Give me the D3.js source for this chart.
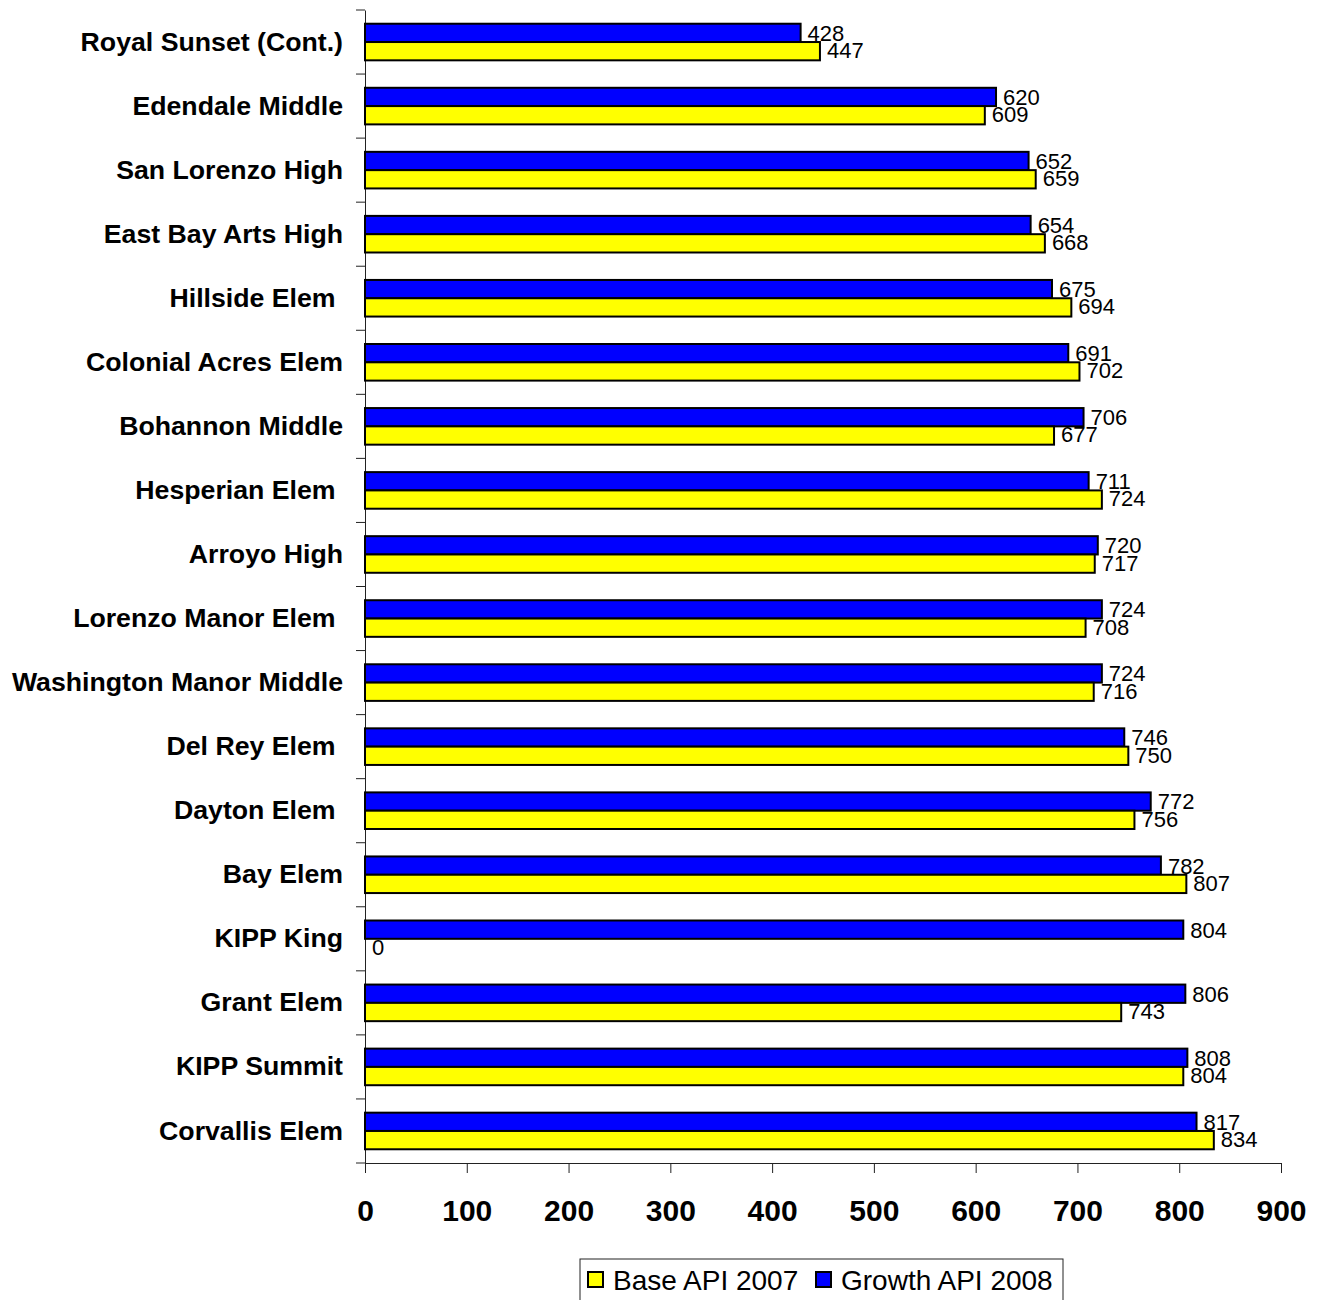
<!DOCTYPE html>
<html><head><meta charset="utf-8">
<script src="https://cdn.jsdelivr.net/npm/d3@7"></script>
<style>body{margin:0;background:#fff}svg{display:block}text{font-family:Arial,"Liberation Sans",sans-serif;white-space:pre}</style>
</head><body>
<script>
const categories = ["Royal Sunset (Cont.)","Edendale Middle","San Lorenzo High","East Bay Arts High","Hillside Elem ","Colonial Acres Elem","Bohannon Middle","Hesperian Elem ","Arroyo High","Lorenzo Manor Elem ","Washington Manor Middle","Del Rey Elem ","Dayton Elem ","Bay Elem","KIPP King","Grant Elem","KIPP Summit","Corvallis Elem"];
const growth2008 = [428,620,652,654,675,691,706,711,720,724,724,746,772,782,804,806,808,817];
const base2007 = [447,609,659,668,694,702,677,724,717,708,716,750,756,807,0,743,804,834];
const xTicks = [0,100,200,300,400,500,600,700,800,900];
const seriesNames = ["Growth API 2008","Base API 2007"];
const seriesColors = ["#0000ff","#ffff00"];
const legendOrder = ["Base API 2007","Growth API 2008"];

const W=1322,H=1300;
const svg=d3.select("body").append("svg").attr("width",W).attr("height",H);
const x=d3.scaleLinear().domain([0,900]).range([365,1281]);
const y=d3.scaleBand().domain(categories).range([10,1163]).padding(0);
const sub=d3.scaleBand().domain(seriesNames).range([0,y.bandwidth()]).paddingInner(0).paddingOuter(0.75);
const color=d3.scaleOrdinal().domain(seriesNames).range(seriesColors);

const data=categories.map((c,i)=>({cat:c,vals:[{s:seriesNames[0],v:growth2008[i]},{s:seriesNames[1],v:base2007[i]}]}));

// Y axis
const yAxis=svg.append("g").attr("transform","translate(365,0)")
  .call(d3.axisLeft(y).tickSize(0).tickPadding(22));
yAxis.select(".domain").attr("stroke","#222").attr("stroke-width",1);
yAxis.selectAll("text").attr("font-size",26.7).attr("font-weight","bold").attr("fill","#000")
  .style("font-family","Arial, 'Liberation Sans', sans-serif");
// band boundary ticks
const bounds=categories.map(c=>y(c)).concat([y.range()[1]]);
svg.append("g").selectAll("line").data(bounds).join("line")
  .attr("x1",356).attr("x2",365).attr("y1",d=>d).attr("y2",d=>d)
  .attr("stroke","#222").attr("stroke-width",1);

// X axis
const xAxis=svg.append("g").attr("transform","translate(0,1163)")
  .call(d3.axisBottom(x).tickValues(xTicks).tickSize(10).tickSizeOuter(0).tickPadding(27));
xAxis.select(".domain").attr("stroke","#222");
xAxis.selectAll(".tick line").attr("stroke","#222");
xAxis.selectAll("text").attr("font-size",30).attr("font-weight","bold").attr("fill","#000")
  .style("font-family","Arial, 'Liberation Sans', sans-serif");

// Bars
const g=svg.append("g").selectAll("g").data(data).join("g")
  .attr("transform",d=>`translate(0,${y(d.cat)})`);
g.selectAll("rect").data(d=>d.vals).join("rect")
  .attr("x",x(0)).attr("y",d=>sub(d.s)).attr("height",sub.bandwidth())
  .attr("width",d=>x(d.v)-x(0))
  .attr("fill",d=>color(d.s)).attr("stroke","#000").attr("stroke-width",2);
g.selectAll("text").data(d=>d.vals).join("text")
  .attr("x",d=>x(d.v)+7)
  .attr("y",d=>sub(d.s)+sub.bandwidth()/2+(d.s===seriesNames[0]?0:-1))
  .attr("dy","0.36em")
  .attr("font-size",22).attr("fill","#000")
  .text(d=>d.v);

// Legend
const lg=svg.append("g");
lg.append("rect").attr("x",580).attr("y",1259).attr("width",483).attr("height",48)
  .attr("fill","#fff").attr("stroke","#222").attr("stroke-width",1);
const lx=[588,816];
legendOrder.forEach((s,i)=>{
  lg.append("rect").attr("x",lx[i]).attr("y",1272).attr("width",15).attr("height",15)
    .attr("fill",color(s)).attr("stroke","#000").attr("stroke-width",2);
  lg.append("text").attr("x",lx[i]+25).attr("y",1290).attr("font-size",28).attr("fill","#000").text(s);
});
</script>
</body></html>
